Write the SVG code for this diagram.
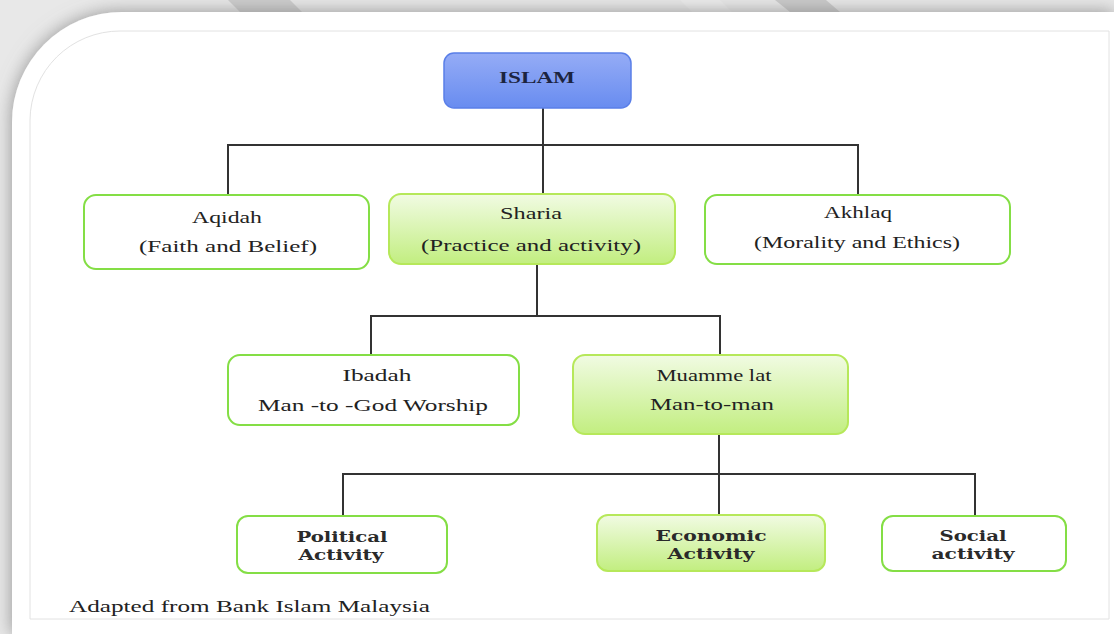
<svg xmlns="http://www.w3.org/2000/svg" width="1114" height="634" viewBox="0 0 1114 634">
  <defs>
    <linearGradient id="gBlue" x1="0" y1="0" x2="0" y2="1">
      <stop offset="0" stop-color="#95acf6"/>
      <stop offset="1" stop-color="#688cf0"/>
    </linearGradient>
    <linearGradient id="gGreen" x1="0" y1="0" x2="0" y2="1">
      <stop offset="0" stop-color="#f1fbe3"/>
      <stop offset="1" stop-color="#c2ee80"/>
    </linearGradient>
    <filter id="panelShadow" x="-5%" y="-5%" width="110%" height="110%">
      <feDropShadow dx="0" dy="0" stdDeviation="9" flood-color="#777777" flood-opacity="0.75"/>
    </filter>
    <style>
      .plain { fill: #ffffff; stroke: #84de45; stroke-width: 2; }
      .green { fill: url(#gGreen); stroke: #b6e85a; stroke-width: 2; }
      .root { fill: url(#gBlue); stroke: #5a7fe8; stroke-width: 1.5; }
      .t { font-family: "Liberation Serif", serif; font-size: 17px; font-weight: 400; fill: #222; text-anchor: middle; }
      .tb { font-family: "Liberation Serif", serif; font-size: 17px; font-weight: bold; fill: #1c2440; text-anchor: middle; }
      .s { font-family: "DejaVu Serif", serif; font-size: 15px; font-weight: bold; fill: #2a2a2a; text-anchor: middle; }
      .foot { font-family: "Liberation Serif", serif; font-size: 17px; font-weight: 400; fill: #222; }
      .lines { fill: none; stroke: #333; stroke-width: 2; }
    </style>
  </defs>

  <!-- page background with slanted bands along the top -->
  <rect x="0" y="0" width="1114" height="634" fill="#e8e8e8"/>
  <polygon points="228,0 290,0 302,12 240,12" fill="#c2c2c2" opacity="0.7"/>
  <polygon points="775,0 826,0 840,12 790,12" fill="#bdbdbd" opacity="0.7"/>
  <polygon points="680,0 720,0 732,12 692,12" fill="#f0f0f0" opacity="0.6"/>

  <!-- white card with rounded top-left corner -->
  <path d="M12,122 A110,110 0 0 1 122,12 L1114,12 L1114,634 L12,634 Z" fill="#ffffff" filter="url(#panelShadow)"/>
  <path d="M30,120 A90,90 0 0 1 120,31 L1109,31 L1109,619 L30,619 Z" fill="none" stroke="#e2e2e2" stroke-width="1"/>

  <!-- connectors -->
  <g id="connectors" class="lines">
    <path d="M543,108 V145 M228,195 V145 H858 V195 M543,145 V194"/>
    <path d="M537,264 V316 M371,355 V316 H720 V355"/>
    <path d="M719,434 V474 M343,516 V474 H975 V516 M719,474 V515"/>
  </g>

  <g id="islam">
    <rect class="root" x="444" y="53" width="187" height="55" rx="10"/>
    <text class="tb" x="537" y="83" textLength="76" lengthAdjust="spacingAndGlyphs">ISLAM</text>
  </g>

  <g id="aqidah">
    <rect class="plain" x="84" y="195" width="285" height="74" rx="12"/>
    <text class="t" x="227" y="223" textLength="70" lengthAdjust="spacingAndGlyphs">Aqidah</text>
    <text class="t" x="228" y="252" textLength="178" lengthAdjust="spacingAndGlyphs">(Faith and Belief)</text>
  </g>

  <g id="sharia">
    <rect class="green" x="389" y="194" width="286" height="70" rx="12"/>
    <text class="t" x="531" y="219" textLength="62" lengthAdjust="spacingAndGlyphs">Sharia</text>
    <text class="t" x="531" y="251" textLength="220" lengthAdjust="spacingAndGlyphs">(Practice and activity)</text>
  </g>

  <g id="akhlaq">
    <rect class="plain" x="705" y="195" width="305" height="69" rx="12"/>
    <text class="t" x="858" y="218" textLength="68" lengthAdjust="spacingAndGlyphs">Akhlaq</text>
    <text class="t" x="857" y="248" textLength="206" lengthAdjust="spacingAndGlyphs">(Morality and Ethics)</text>
  </g>

  <g id="ibadah">
    <rect class="plain" x="228" y="355" width="291" height="70" rx="12"/>
    <text class="t" x="377" y="381" textLength="69" lengthAdjust="spacingAndGlyphs">Ibadah</text>
    <text class="t" x="373" y="411" textLength="230" lengthAdjust="spacingAndGlyphs">Man -to -God Worship</text>
  </g>

  <g id="muammelat">
    <rect class="green" x="573" y="355" width="275" height="79" rx="12"/>
    <text class="t" x="714" y="381" textLength="115" lengthAdjust="spacingAndGlyphs">Muamme lat</text>
    <text class="t" x="712" y="410" textLength="124" lengthAdjust="spacingAndGlyphs">Man-to-man</text>
  </g>

  <g id="political">
    <rect class="plain" x="237" y="516" width="210" height="57" rx="11"/>
    <text class="s" x="342" y="542" textLength="91" lengthAdjust="spacingAndGlyphs">Political</text>
    <text class="s" x="341" y="560" textLength="85" lengthAdjust="spacingAndGlyphs">Activity</text>
  </g>

  <g id="economic">
    <rect class="green" x="597" y="515" width="228" height="56" rx="11"/>
    <text class="s" x="711" y="541" textLength="111" lengthAdjust="spacingAndGlyphs">Economic</text>
    <text class="s" x="711" y="559" textLength="87" lengthAdjust="spacingAndGlyphs">Activity</text>
  </g>

  <g id="social">
    <rect class="plain" x="882" y="516" width="184" height="55" rx="11"/>
    <text class="s" x="973" y="541" textLength="67" lengthAdjust="spacingAndGlyphs">Social</text>
    <text class="s" x="973" y="559" textLength="83" lengthAdjust="spacingAndGlyphs">activity</text>
  </g>

  <text class="foot" x="69" y="612" textLength="361" lengthAdjust="spacingAndGlyphs">Adapted from Bank Islam Malaysia</text>
</svg>
